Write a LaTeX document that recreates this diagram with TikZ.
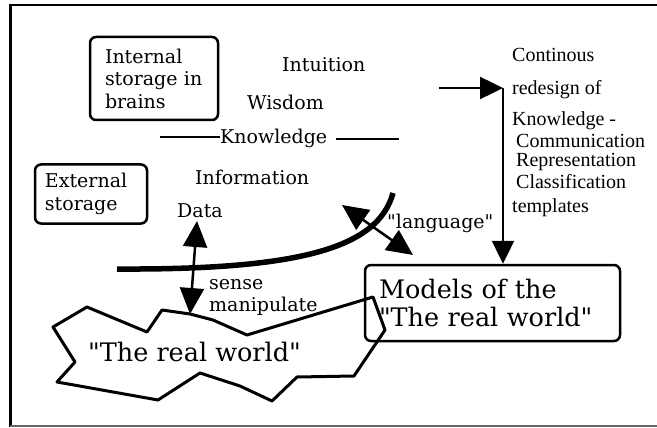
\documentclass[tikz,border=0pt]{standalone}
\usepackage{fontspec}
\setmainfont{DejaVu Serif}[Ligatures=TeXOff]
\newfontfamily\timesfont{Liberation Serif}
\usetikzlibrary{arrows.meta}

\begin{document}
\begin{tikzpicture}[x=1pt,y=-1pt,
  lbl/.style={inner sep=0pt, anchor=base west, font=\fontsize{19}{22.5}\selectfont},
  side/.style={inner sep=0pt, anchor=base west, font=\timesfont\fontsize{20}{22}\selectfont},
  store/.style={draw, line width=2.5pt, rounded corners=6pt, align=left,
                font=\fontsize{19}{22.5}\selectfont},
  bigarrow/.style={line width=2.5pt, -{Triangle[length=23pt,width=22pt]}},
  twoway/.style={line width=2.5pt,
                 {Triangle[length=26pt,width=24pt]}-{Triangle[length=26pt,width=24pt]}},
]
\useasboundingbox (0,0) rectangle (657,428);

% outer frame
\draw[line width=2pt] (657,5) -- (10,5);
\draw[line width=3pt] (10,4) -- (10,427);
\draw[line width=1.5pt, black!60] (10,426) -- (657,426);

% storage boxes
\node[store, minimum width=128pt, minimum height=83pt, inner xsep=15pt, text width=98pt]
  (brains) at (154,78.5) {Internal\\storage in\\brains};
\node[store, minimum width=112pt, minimum height=59pt, inner xsep=10pt, text width=92pt]
  (external) at (91,194) {External\\storage};

% hierarchy of knowing
\node[lbl] (intuition) at (282,72) {Intuition};
\node[lbl] (wisdom) at (247,110) {Wisdom};
\node[lbl] (knowledge) at (220,143) {Knowledge};
\node[lbl] (information) at (195,185) {Information};
\node[lbl] (data) at (177,217) {Data};

\coordinate (kl) at (160,137);
\coordinate (kr) at (399,139);
\draw[line width=2.5pt] (kl) -- (kl -| knowledge.west);
\draw[line width=2.5pt] ([xshift=9pt]knowledge.east |- kr) -- (kr);

% the sense boundary
\draw[line width=5.5pt] (117,269) .. controls (300,270) and (378,248) .. (393,193);

% continuous redesign column
\node[side] (r1) at (512,62) {Continous};
\node[side] (r2) at (512,95) {redesign of};
\node[side] (r3) at (512,125) {Knowledge -};
\node[side] (r4) at (516,147) {Communication};
\node[side] (r5) at (516,167) {Representation};
\node[side] (r6) at (516,189) {Classification};
\node[side] (r7) at (512,212) {templates};

% models box
\node[store, font=\fontsize{25.5}{28}\selectfont, minimum width=255pt, minimum height=76pt,
      inner xsep=14pt, text width=227pt]
  (models) at (492.5,303) {Models of the\\"The real world"};

% the real world outline
\draw[line width=3pt, line join=round]
  (53,327) -- (87,307) -- (147,332) -- (162,310) -- (190,314) -- (213,320)
  -- (247,335) -- (373,297) -- (385,330) -- (354,376) -- (297,377)
  -- (272,401) -- (240,386) -- (200,373) -- (158,400) -- (57,382)
  -- (75,362) -- cycle;
\node[inner sep=0pt, anchor=base west, font=\fontsize{25.5}{28}\selectfont]
  (world) at (88,361) {"The real world"};

% labels of the exchanges
\node[lbl] (sense) at (209,289) {sense};
\node[lbl] (manip) at (209,311) {manipulate};
\node[lbl] (lang) at (387,229) {"language"};

% arrows
\coordinate (dtop) at (197,221);
\coordinate (dbot) at (190,314);
\draw[twoway] (dtop) -- (dbot);

\coordinate (ltop) at (342,205);
\coordinate (lbot) at (413,255);
\draw[twoway] (ltop) -- (lbot);

\coordinate (fb) at (439,88);
\coordinate (corner) at (503,88);
\draw[bigarrow] (fb) -- (corner);
\draw[bigarrow] (corner) -- (corner |- models.north);
\end{tikzpicture}
\end{document}
